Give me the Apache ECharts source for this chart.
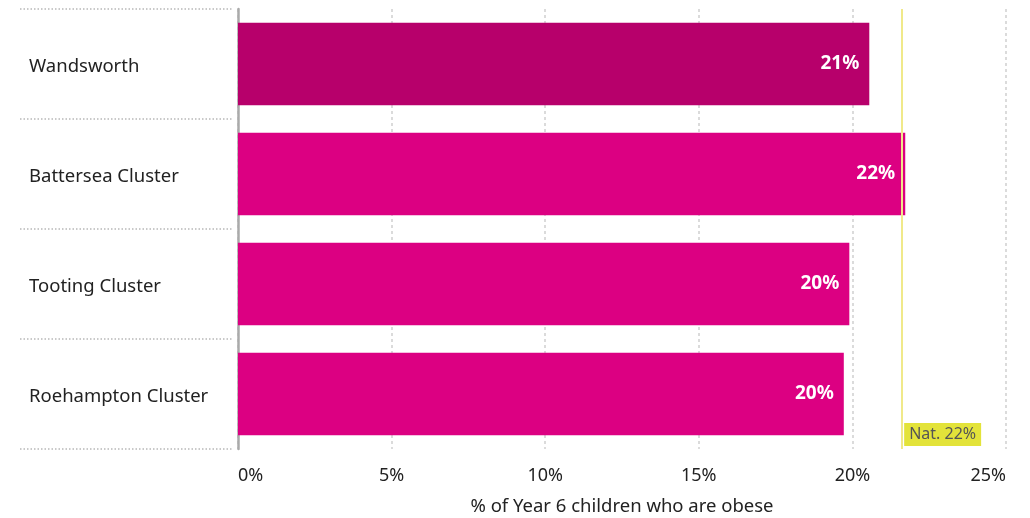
<!DOCTYPE html>
<html><head><meta charset="utf-8">
<script src="https://cdn.jsdelivr.net/npm/echarts@6/dist/echarts.min.js"></script>
<style>html,body{margin:0;padding:0;background:#fff}#c{width:1030px;height:518px}</style>
</head><body><div id="c"></div>
<script>
const categories = ['Wandsworth', 'Battersea Cluster', 'Tooting Cluster', 'Roehampton Cluster'];
const values = [20.55, 21.72, 19.9, 19.72];
const nationalValue = 21.62;
const nationalLabel = 'Nat. 22%';
const axisTitle = '% of Year 6 children who are obese';
const highlightCategory = 'Wandsworth';

const FONT = '"Noto Sans", "Open Sans", sans-serif';
const chart = echarts.init(document.getElementById('c'));
chart.setOption({
  animation: false,
  grid: [
    {left: 238, right: 24, top: 9, bottom: 69, containLabel: false, outerBoundsMode: 'none'},
    {left: 20, right: 1030 - 233, top: 9, bottom: 69, containLabel: false, outerBoundsMode: 'none'}
  ],
  xAxis: [{
    gridIndex: 0, type: 'value', min: 0, max: 25, interval: 5,
    axisLine: {show: false}, axisTick: {show: false},
    axisLabel: {formatter: '{value}%', color: '#222', fontSize: 18, fontFamily: FONT, margin: 18,
      alignMinLabel: 'left', alignMaxLabel: 'right'},
    splitLine: {show: true, lineStyle: {color: '#d0d0d0', type: [3, 3], width: 1.5}},
    name: axisTitle, nameLocation: 'middle', nameGap: 48,
    nameTextStyle: {color: '#222', fontSize: 18.5, fontFamily: FONT}
  }, {
    gridIndex: 1, type: 'value', show: false, min: 0, max: 1
  }],
  yAxis: [{
    gridIndex: 0, type: 'category', data: categories, inverse: true,
    axisLine: {show: true, lineStyle: {color: '#aaaaaa', width: 2.5}},
    axisTick: {show: false},
    axisLabel: {align: 'left', margin: 209, color: '#222', fontSize: 18.5, fontFamily: FONT,
      formatter: v => '{a|' + v + '}',
      rich: {a: {color: '#222', fontSize: 18.5, fontFamily: FONT, padding: [6, 0, 0, 0]}}}
  }, {
    gridIndex: 1, type: 'category', data: categories, inverse: true,
    axisLine: {show: false}, axisTick: {show: false}, axisLabel: {show: false},
    splitLine: {show: true, lineStyle: {color: '#b8b8b8', type: [1.5, 2], width: 1.5}}
  }],
  series: [{
    type: 'bar', xAxisIndex: 0, yAxisIndex: 0,
    data: values, barCategoryGap: '25%',
    itemStyle: {color: p => p.name === highlightCategory ? '#b7006b' : '#dc0082'},
    label: {show: true, position: 'insideRight', distance: 10, color: '#fff', fontWeight: 'bold',
      fontSize: 19, fontFamily: FONT, formatter: p => Math.round(p.value) + '%'},
    markLine: {
      silent: true, symbol: 'none',
      lineStyle: {color: '#f0e98a', width: 2, type: 'solid'},
      label: {show: false},
      data: [{xAxis: nationalValue}]
    },
    markPoint: {
      silent: true, symbol: 'circle', symbolSize: 0,
      data: [{coord: [nationalValue, categories[categories.length - 1]]}],
      label: {show: true, formatter: nationalLabel, position: [2, 29], color: '#555',
        fontSize: 16, fontFamily: FONT, backgroundColor: '#e3e33a', padding: [3, 5, 4, 5]}
    }
  }]
});
</script></body></html>
